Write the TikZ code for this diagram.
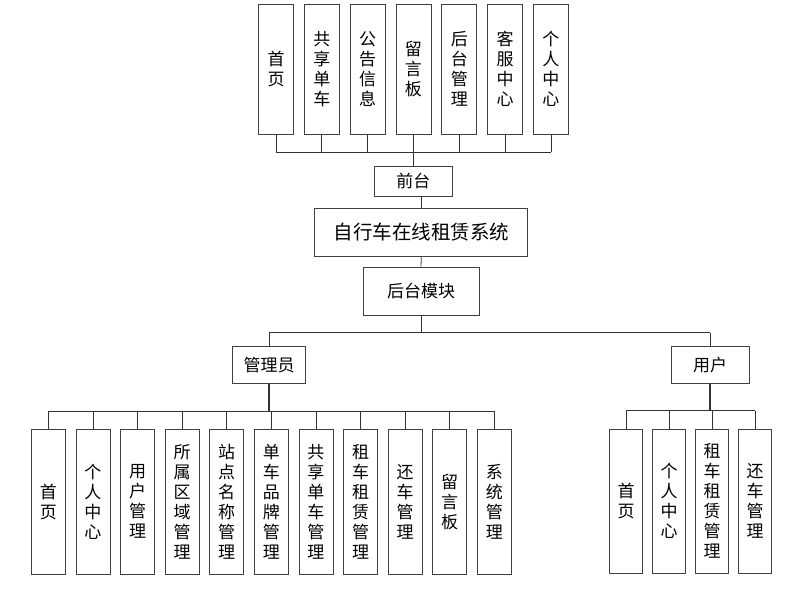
\documentclass[tikz,border=0pt]{standalone}
\usepackage{fontspec}
\newfontfamily\cjk{Noto Sans CJK SC}
\usepackage{tikz}
\usetikzlibrary{calc}
\tikzset{x=1pt, y=-1pt,
	module/.style={draw=black!75, line width=0.8pt, fill=white, inner sep=0pt,
		align=center, font=\cjk\fontsize{17}{20}\selectfont},
	vbox/.style={module, minimum width=#1, minimum height=130},
	link/.style={draw=black!80, line width=0.8pt}
}

\begin{document}
\begin{tikzpicture}
\useasboundingbox (0,0) rectangle (793,592);
% front end modules
\foreach \i/\txt in {1/{首\\页},2/{共\\享\\单\\车},3/{公\\告\\信\\息},4/{留\\言\\板},
	5/{后\\台\\管\\理},6/{客\\服\\中\\心},7/{个\\人\\中\\心}}
	\node[vbox=35] (top\i) at ({276+45.83*(\i-1)},69) {\txt};
\node[module, minimum width=78, minimum height=30] (Front) at (413.3,181) {前台};
\node[module, minimum width=213, minimum height=48,
	font=\cjk\fontsize{19.5}{22}\selectfont] (System) at (421.3,232) {自行车在线租赁系统};
\node[module, minimum width=116, minimum height=48] (Back) at (421,291) {后台模块};
\node[module, minimum width=73, minimum height=37] (Admin) at (269,365) {管理员};
\node[module, minimum width=78, minimum height=37] (User) at (710,365) {用户};
% admin modules
\foreach \i/\txt in {1/{首\\页},2/{个\\人\\中\\心},3/{用\\户\\管\\理},4/{所\\属\\区\\域\\管\\理},
	5/{站\\点\\名\\称\\管\\理},6/{单\\车\\品\\牌\\管\\理},7/{共\\享\\单\\车\\管\\理},
	8/{租\\车\\租\\赁\\管\\理},9/{还\\车\\管\\理},10/{留\\言\\板},11/{系\\统\\管\\理}}
	\node[vbox=34, minimum height=145] (adm\i) at ({48.3+44.6*(\i-1)},501.8) {\txt};
% user modules
\foreach \i/\txt in {1/{首\\页},2/{个\\人\\中\\心},3/{租\\车\\租\\赁\\管\\理},4/{还\\车\\管\\理}}
	\node[vbox=33.5, minimum height=144] (usr\i) at ({626+43*(\i-1)},501.2) {\txt};

% connectors
\coordinate (TopBus) at (413.3,152);
\coordinate (MidBus) at (421,332.7);
\coordinate (AdmBus) at (269,411);
\coordinate (UsrBus) at (710,410.7);
\foreach \i in {1,...,7}
	\draw[link] (top\i.south) -- (top\i.south |- TopBus);
\draw[link] (top1.south |- TopBus) -- (top7.south |- TopBus);
\draw[link] (Front.north) -- (Front.north |- TopBus);
\draw[link] (System.north) -- (System.north |- Front.south);
\draw[link] (System.south) -- (Back.north);
\draw[link] (Back.south) -- (MidBus);
\draw[link] (Admin.north |- MidBus) -- (User.north |- MidBus);
\draw[link] (Admin.north) -- (Admin.north |- MidBus);
\draw[link] (User.north) -- (User.north |- MidBus);
\draw[link, line width=1.5pt] (Admin.south) -- (AdmBus);
\draw[link] (adm1.north |- AdmBus) -- (adm11.north |- AdmBus);
\foreach \i in {1,...,11}
	\draw[link] (adm\i.north) -- (adm\i.north |- AdmBus);
\draw[link, line width=1.5pt] (User.south) -- (UsrBus);
\draw[link] (usr1.north |- UsrBus) -- (usr4.north |- UsrBus);
\foreach \i in {1,...,4}
	\draw[link] (usr\i.north) -- (usr\i.north |- UsrBus);
\end{tikzpicture}
\end{document}
